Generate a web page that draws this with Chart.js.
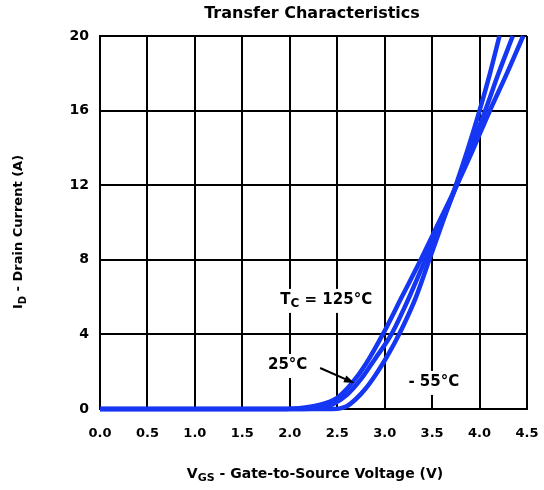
<!DOCTYPE html>
<html>
<head>
<meta charset="utf-8">
<script src="https://cdn.jsdelivr.net/npm/chart.js@4/dist/chart.umd.min.js"></script>
<style>
  body { margin: 0; background: #fff; }
  canvas { display: block; }
</style>
</head>
<body>
<canvas id="chart" width="544" height="490"></canvas>
<script>
// Transfer Characteristics

const FONT = "'DejaVu Sans', 'Liberation Sans', Arial, sans-serif";
const BLUE = "#1536f2";

const xTicks = [0, 0.5, 1.0, 1.5, 2.0, 2.5, 3.0, 3.5, 4.0, 4.5];
const yTicks = [0, 4, 8, 12, 16, 20];

// Vgs (V) / Id (A) per case temperature
const vgs125 = [0, 1.9, 2.1, 2.3, 2.5, 2.65, 2.8, 2.98, 3.18, 3.38, 3.57, 3.76, 3.93, 4.1, 4.28, 4.46];
const id125 = [0, 0, 0.04, 0.2, 0.6, 1.35, 2.4, 4, 6, 8, 10, 12, 13.9, 15.9, 17.9, 20];

const vgs25 = [0, 2.15, 2.3, 2.45, 2.6, 2.75, 2.9, 3.07, 3.25, 3.42, 3.6, 3.76, 3.91, 4.06, 4.2, 4.35];
const id25 = [0, 0, 0.05, 0.25, 0.75, 1.6, 2.7, 4, 5.9, 7.9, 10, 12, 14, 16, 18, 20];

const vgsM55 = [0, 2.45, 2.6, 2.7, 2.8, 2.9, 3.0, 3.1, 3.2, 3.33, 3.47, 3.61, 3.75, 3.88, 4.0, 4.11, 4.21];
const idM55 = [0, 0, 0.15, 0.55, 1.1, 1.8, 2.6, 3.5, 4.5, 6, 8, 10, 12, 14, 16, 18, 20];

const toPoints = (xs, ys) => xs.map((x, i) => ({ x: x, y: ys[i] }));

function curve(label, xs, ys) {
  return {
    label: label,
    data: toPoints(xs, ys),
    showLine: true,
    borderColor: BLUE,
    backgroundColor: BLUE,
    borderWidth: 4.5,
    pointRadius: 0,
    cubicInterpolationMode: "monotone",
    clip: 5,
  };
}

// text drawn on the chart, in data coordinates
const notes = [
  { x: 1.9, y: 5.85, parts: [["T", 0], ["C", 1], [" = 125°C", 0]] },
  { x: 1.77, y: 2.36, parts: [["25°C", 0]] },
  { x: 3.25, y: 1.45, parts: [["- 55°C", 0]] },
];
const arrow = { from: [2.32, 2.2], to: [2.68, 1.39] };

function drawParts(c, parts, x, y, size) {
  parts.forEach(p => {
    if (p[1]) {
      c.font = "bold " + (size - 3) + "px " + FONT;
      c.fillText(p[0], x, y + 4);
    } else {
      c.font = "bold " + size + "px " + FONT;
      c.fillText(p[0], x, y);
    }
    x += c.measureText(p[0]).width;
  });
}

function partsWidth(c, parts, size) {
  let w = 0;
  parts.forEach(p => {
    c.font = "bold " + (p[1] ? size - 3 : size) + "px " + FONT;
    w += c.measureText(p[0]).width;
  });
  return w;
}

const textPlugin = {
  id: "texts",
  afterDraw(chart) {
    const c = chart.ctx;
    const xs = chart.scales.x;
    const ys = chart.scales.y;
    c.save();
    c.fillStyle = "#000";
    c.textBaseline = "middle";

    // notes with white background
    notes.forEach(n => {
      const px = xs.getPixelForValue(n.x);
      const py = ys.getPixelForValue(n.y);
      const w = partsWidth(c, n.parts, 15);
      c.fillStyle = "#fff";
      c.fillRect(px - 3, py - 11, w + 6, 24);
      c.fillStyle = "#000";
      drawParts(c, n.parts, px, py, 15);
    });

    // arrow
    const ax1 = xs.getPixelForValue(arrow.from[0]);
    const ay1 = ys.getPixelForValue(arrow.from[1]);
    const ax2 = xs.getPixelForValue(arrow.to[0]);
    const ay2 = ys.getPixelForValue(arrow.to[1]);
    const ang = Math.atan2(ay2 - ay1, ax2 - ax1);
    c.strokeStyle = "#000";
    c.lineWidth = 2;
    c.beginPath();
    c.moveTo(ax1, ay1);
    c.lineTo(ax2 - 6 * Math.cos(ang), ay2 - 6 * Math.sin(ang));
    c.stroke();
    c.beginPath();
    c.moveTo(ax2, ay2);
    c.lineTo(ax2 - 11 * Math.cos(ang - 0.35), ay2 - 11 * Math.sin(ang - 0.35));
    c.lineTo(ax2 - 11 * Math.cos(ang + 0.35), ay2 - 11 * Math.sin(ang + 0.35));
    c.closePath();
    c.fill();

    // title
    c.textAlign = "center";
    c.font = "bold 16px " + FONT;
    c.fillText("Transfer Characteristics", 312, 14);

    // x axis title
    const xParts = [["V", 0], ["GS", 1], [" - Gate-to-Source Voltage (V)", 0]];
    c.textAlign = "left";
    const xw = partsWidth(c, xParts, 14);
    drawParts(c, xParts, 315 - xw / 2, 474, 14);

    // y axis title
    const yParts = [["I", 0], ["D", 1], [" - Drain Current (A)", 0]];
    const yw = partsWidth(c, yParts, 13);
    c.translate(19, 232);
    c.rotate(-Math.PI / 2);
    drawParts(c, yParts, -yw / 2, 0, 13);
    c.restore();
  },
};

new Chart(document.getElementById("chart"), {
  type: "scatter",
  data: {
    datasets: [
      curve("125°C", vgs125, id125),
      curve("25°C", vgs25, id25),
      curve("-55°C", vgsM55, idM55),
    ],
  },
  options: {
    responsive: false,
    animation: false,
    layout: {
      padding: { top: 36, right: 17, left: 0, bottom: 0 },
    },
    plugins: {
      legend: { display: false },
      tooltip: { enabled: false },
    },
    scales: {
      x: {
        type: "linear",
        min: 0,
        max: 4.5,
        afterFit: s => { s.height = 81; s.paddingLeft = 0; s.paddingRight = 0; },
        afterBuildTicks: s => { s.ticks = xTicks.map(v => ({ value: v })); },
        border: { color: "#000", width: 2 },
        grid: { color: "#000", lineWidth: 2, drawTicks: false },
        ticks: {
          padding: 17,
          color: "#000",
          font: { family: FONT, size: 13, weight: "bold" },
          callback: v => v.toFixed(1),
        },
      },
      y: {
        type: "linear",
        min: 0,
        max: 20,
        afterFit: s => { s.width = 100; s.paddingTop = 0; s.paddingBottom = 0; },
        afterBuildTicks: s => { s.ticks = yTicks.map(v => ({ value: v })); },
        border: { color: "#000", width: 2 },
        grid: { color: "#000", lineWidth: 2, drawTicks: false },
        ticks: {
          padding: 11,
          color: "#000",
          font: { family: FONT, size: 14, weight: "bold" },
        },
      },
    },
  },
  plugins: [textPlugin],
});
</script>
</body>
</html>
